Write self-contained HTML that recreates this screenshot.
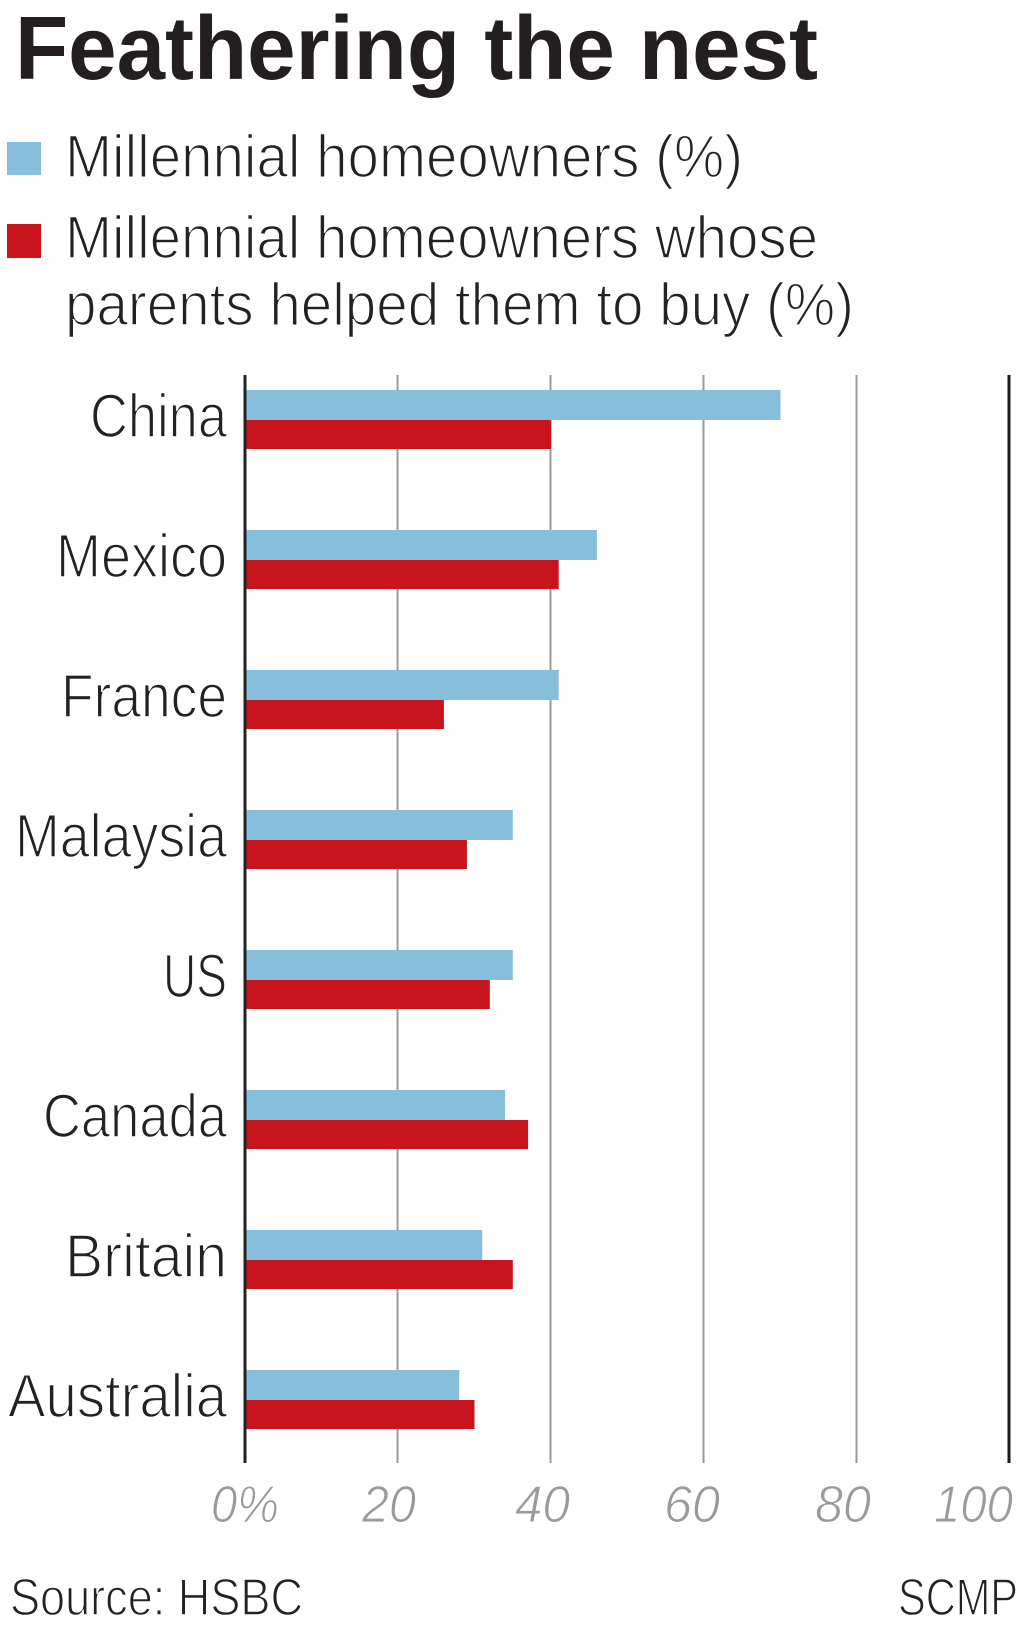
<!DOCTYPE html>
<html>
<head>
<meta charset="utf-8">
<style>
  html, body { margin: 0; padding: 0; background: #ffffff; }
  svg { display: block; }
  .t { font-family: "Liberation Sans", sans-serif; }
</style>
</head>
<body>
<svg width="1024" height="1627" viewBox="0 0 1024 1627" xmlns="http://www.w3.org/2000/svg">
  <rect x="0" y="0" width="1024" height="1627" fill="#ffffff"/>

  <!-- Title -->
  <text class="t" x="15" y="79" font-size="90" font-weight="bold" fill="#231f20" textLength="803" lengthAdjust="spacingAndGlyphs">Feathering the nest</text>

  <!-- Legend -->
  <rect x="7" y="142" width="34" height="33" fill="#86bedb"/>
  <rect x="7" y="224" width="34" height="34" fill="#c8141c"/>
  <g fill="#222" stroke="#fff" stroke-width="1.6" font-size="60">
    <text class="t" x="65" y="177" textLength="678" lengthAdjust="spacingAndGlyphs">Millennial homeowners (%)</text>
    <text class="t" x="65" y="258" textLength="753" lengthAdjust="spacingAndGlyphs">Millennial homeowners whose</text>
    <text class="t" x="65" y="325" textLength="789" lengthAdjust="spacingAndGlyphs">parents helped them to buy (%)</text>
  </g>

  <!-- Gridlines -->
  <g stroke="#9a9a9a" stroke-width="2">
    <line x1="397.5" y1="375" x2="397.5" y2="1463"/>
    <line x1="550.5" y1="375" x2="550.5" y2="1463"/>
    <line x1="703.5" y1="375" x2="703.5" y2="1463"/>
    <line x1="856.5" y1="375" x2="856.5" y2="1463"/>
  </g>
  <line x1="1009" y1="375" x2="1009" y2="1463" stroke="#1a1a1a" stroke-width="3"/>

  <!-- Bars: 0 at 245, 7.65 px per unit -->
  <g>
    <!-- China 70 / 40 -->
    <rect x="245" y="390" width="535.5" height="30" fill="#86bedb"/>
    <rect x="245" y="420" width="306" height="29" fill="#c8141c"/>
    <!-- Mexico 46 / 41 -->
    <rect x="245" y="530" width="351.9" height="30" fill="#86bedb"/>
    <rect x="245" y="560" width="313.7" height="29" fill="#c8141c"/>
    <!-- France 41 / 26 -->
    <rect x="245" y="670" width="313.7" height="30" fill="#86bedb"/>
    <rect x="245" y="700" width="198.9" height="29" fill="#c8141c"/>
    <!-- Malaysia 35 / 29 -->
    <rect x="245" y="810" width="267.8" height="30" fill="#86bedb"/>
    <rect x="245" y="840" width="221.9" height="29" fill="#c8141c"/>
    <!-- US 35 / 32 -->
    <rect x="245" y="950" width="267.8" height="30" fill="#86bedb"/>
    <rect x="245" y="980" width="244.8" height="29" fill="#c8141c"/>
    <!-- Canada 34 / 37 -->
    <rect x="245" y="1090" width="260.1" height="30" fill="#86bedb"/>
    <rect x="245" y="1120" width="283.1" height="29" fill="#c8141c"/>
    <!-- Britain 31 / 35 -->
    <rect x="245" y="1230" width="237.2" height="30" fill="#86bedb"/>
    <rect x="245" y="1260" width="267.8" height="29" fill="#c8141c"/>
    <!-- Australia 28 / 30 -->
    <rect x="245" y="1370" width="214.2" height="30" fill="#86bedb"/>
    <rect x="245" y="1400" width="229.5" height="29" fill="#c8141c"/>
  </g>

  <!-- Zero axis -->
  <line x1="245" y1="375" x2="245" y2="1463" stroke="#222" stroke-width="3"/>

  <!-- Country labels -->
  <g fill="#222" stroke="#fff" stroke-width="1.6" font-size="61">
    <text class="t" x="90" y="437" textLength="137" lengthAdjust="spacingAndGlyphs">China</text>
    <text class="t" x="56" y="577" textLength="171" lengthAdjust="spacingAndGlyphs">Mexico</text>
    <text class="t" x="61" y="717" textLength="166" lengthAdjust="spacingAndGlyphs">France</text>
    <text class="t" x="15" y="857" textLength="212" lengthAdjust="spacingAndGlyphs">Malaysia</text>
    <text class="t" x="163" y="997" textLength="64" lengthAdjust="spacingAndGlyphs">US</text>
    <text class="t" x="43" y="1137" textLength="184" lengthAdjust="spacingAndGlyphs">Canada</text>
    <text class="t" x="65" y="1277" textLength="162" lengthAdjust="spacingAndGlyphs">Britain</text>
    <text class="t" x="8" y="1417" textLength="219" lengthAdjust="spacingAndGlyphs">Australia</text>
  </g>

  <!-- Tick labels -->
  <g fill="#9a9a9a" stroke="#fff" stroke-width="1" font-size="52" font-style="italic">
    <text class="t" x="211" y="1522" textLength="68" lengthAdjust="spacingAndGlyphs">0%</text>
    <text class="t" x="362" y="1522" textLength="54" lengthAdjust="spacingAndGlyphs">20</text>
    <text class="t" x="515" y="1522" textLength="55" lengthAdjust="spacingAndGlyphs">40</text>
    <text class="t" x="664" y="1522" textLength="56" lengthAdjust="spacingAndGlyphs">60</text>
    <text class="t" x="815" y="1522" textLength="56" lengthAdjust="spacingAndGlyphs">80</text>
    <text class="t" x="934" y="1522" textLength="79" lengthAdjust="spacingAndGlyphs">100</text>
  </g>

  <!-- Footer -->
  <g fill="#222" stroke="#fff" stroke-width="1.4" font-size="52">
    <text class="t" x="10" y="1615" textLength="293" lengthAdjust="spacingAndGlyphs">Source: HSBC</text>
    <text class="t" x="898" y="1615" textLength="120" lengthAdjust="spacingAndGlyphs">SCMP</text>
  </g>
</svg>
</body>
</html>
